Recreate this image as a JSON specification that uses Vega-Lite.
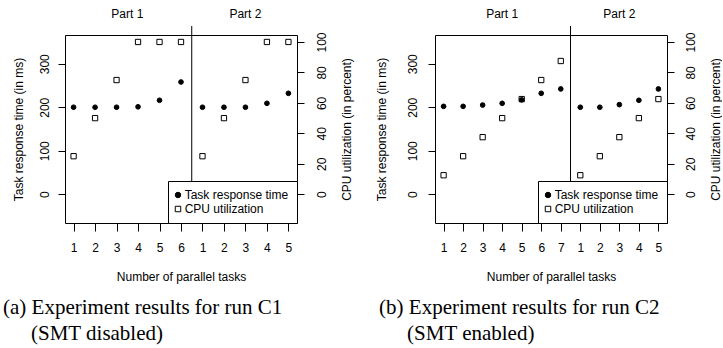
{
  "$schema": "https://vega.github.io/schema/vega-lite/v6.json",
  "padding": {"left": 2, "top": 7, "right": 0, "bottom": 0},
  "background": "white",
  "datasets": {
    "c1": [
      {"idx": 1, "part": "Part 1", "ms": 200, "cpu": 25},
      {"idx": 2, "part": "Part 1", "ms": 200, "cpu": 50},
      {"idx": 3, "part": "Part 1", "ms": 200, "cpu": 75},
      {"idx": 4, "part": "Part 1", "ms": 201, "cpu": 100},
      {"idx": 5, "part": "Part 1", "ms": 216, "cpu": 100},
      {"idx": 6, "part": "Part 1", "ms": 258, "cpu": 100},
      {"idx": 7, "part": "Part 2", "ms": 200, "cpu": 25},
      {"idx": 8, "part": "Part 2", "ms": 200, "cpu": 50},
      {"idx": 9, "part": "Part 2", "ms": 200, "cpu": 75},
      {"idx": 10, "part": "Part 2", "ms": 209, "cpu": 100},
      {"idx": 11, "part": "Part 2", "ms": 232, "cpu": 100}
    ],
    "c2": [
      {"idx": 1, "part": "Part 1", "ms": 202, "cpu": 12.5},
      {"idx": 2, "part": "Part 1", "ms": 202, "cpu": 25},
      {"idx": 3, "part": "Part 1", "ms": 205, "cpu": 37.5},
      {"idx": 4, "part": "Part 1", "ms": 209, "cpu": 50},
      {"idx": 5, "part": "Part 1", "ms": 217, "cpu": 62.5},
      {"idx": 6, "part": "Part 1", "ms": 232, "cpu": 75},
      {"idx": 7, "part": "Part 1", "ms": 242, "cpu": 87.5},
      {"idx": 8, "part": "Part 2", "ms": 200, "cpu": 12.5},
      {"idx": 9, "part": "Part 2", "ms": 200, "cpu": 25},
      {"idx": 10, "part": "Part 2", "ms": 206, "cpu": 37.5},
      {"idx": 11, "part": "Part 2", "ms": 216, "cpu": 50},
      {"idx": 12, "part": "Part 2", "ms": 242, "cpu": 62.5}
    ]
  },
  "spacing": 21,
  "resolve": {"scale": {"shape": "independent", "fill": "independent", "stroke": "independent"}},
  "hconcat": [
    {
      "width": 232,
      "height": 188,
      "data": {"name": "c1"},
      "title": {"text": ["(a) Experiment results for run C1", "\u200b\u00a0\u00a0\u00a0\u00a0\u00a0\u200a(SMT disabled)"], "dx": -9},
      "resolve": {"scale": {"y": "independent"}},
      "layer": [
        {
          "mark": {"type": "point", "size": 28, "strokeWidth": 1, "opacity": 1},
          "encoding": {
            "x": {"field": "idx", "type": "quantitative", "scale": {"domain": [0.6, 11.4], "nice": false, "zero": false},
                  "axis": {"values": [1,2,3,4,5,6,7,8,9,10,11], "tickCount": 30, "labelExpr": "datum.value <= 6 ? datum.value : datum.value - 6", "title": "Number of parallel tasks", "tickSize": 8, "labelPadding": 11, "titlePadding": 18, "labelAngle": 0, "labelOverlap": false}},
            "y": {"field": "cpu", "type": "quantitative", "scale": {"domain": [-18.857, 104.571], "nice": false, "zero": false},
                  "axis": {"orient": "right", "values": [0,20,40,60,80,100], "tickCount": 30, "title": "CPU utilization (in percent)", "tickSize": 7, "labelAngle": 270, "labelPadding": 12, "titleAngle": 270, "titlePadding": 26, "labelOverlap": false}},
            "shape": {"datum": "CPU utilization", "scale": {"domain": ["Task response time", "CPU utilization"], "range": ["circle", "square"]}, "legend": {"title": null}},
            "fill": {"datum": "CPU utilization", "scale": {"domain": ["Task response time", "CPU utilization"], "range": ["black", "white"]}, "legend": {"title": null}},
            "stroke": {"datum": "CPU utilization", "scale": {"domain": ["Task response time", "CPU utilization"], "range": ["black", "black"]}, "legend": {"title": null}}
          }
        },
        {
          "layer": [
            {
              "data": {"values": [{}]},
              "mark": {"type": "rule", "color": "black", "strokeWidth": 1},
              "encoding": {"x": {"datum": 6.5, "type": "quantitative"}, "y": {"datum": -66, "type": "quantitative"}, "y2": {"datum": 386.7}}
            },
            {
              "data": {"values": [{}]},
              "mark": {"type": "text", "text": "Part 1", "fontSize": 12, "color": "black", "baseline": "middle"},
              "encoding": {"x": {"datum": 3.5, "type": "quantitative"}, "y": {"datum": 414, "type": "quantitative"}}
            },
            {
              "data": {"values": [{}]},
              "mark": {"type": "text", "text": "Part 2", "fontSize": 12, "color": "black", "baseline": "middle"},
              "encoding": {"x": {"datum": 9, "type": "quantitative"}, "y": {"datum": 414, "type": "quantitative"}}
            },
            {
              "mark": {"type": "point", "size": 22, "strokeWidth": 1, "opacity": 1},
              "encoding": {
                "x": {"field": "idx", "type": "quantitative",
                      "axis": {"values": [1,2,3,4,5,6,7,8,9,10,11], "tickCount": 30, "labelExpr": "datum.value <= 6 ? datum.value : datum.value - 6", "title": "Number of parallel tasks", "tickSize": 8, "labelPadding": 11, "titlePadding": 18, "labelAngle": 0, "labelOverlap": false}},
                "y": {"field": "ms", "type": "quantitative", "scale": {"domain": [-66, 366], "nice": false, "zero": false},
                      "axis": {"orient": "left", "values": [0,100,200,300], "tickCount": 30, "title": "Task response time (in ms)", "tickSize": 7, "labelAngle": 270, "labelPadding": 7, "titlePadding": 13, "labelOverlap": false}},
                "shape": {"datum": "Task response time", "legend": {"title": null}},
                "fill": {"datum": "Task response time", "legend": {"title": null}},
                "stroke": {"datum": "Task response time", "legend": {"title": null}}
              }
            }
          ]
        }
      ]
    },
    {
      "width": 232,
      "height": 188,
      "data": {"name": "c2"},
      "title": {"text": ["(b) Experiment results for run C2", "\u200b\u00a0\u00a0\u00a0\u00a0\u00a0\u200a(SMT enabled)"], "dx": 4},
      "resolve": {"scale": {"y": "independent"}},
      "layer": [
        {
          "mark": {"type": "point", "size": 28, "strokeWidth": 1, "opacity": 1},
          "encoding": {
            "x": {"field": "idx", "type": "quantitative", "scale": {"domain": [0.56, 12.44], "nice": false, "zero": false},
                  "axis": {"values": [1,2,3,4,5,6,7,8,9,10,11,12], "tickCount": 30, "labelExpr": "datum.value <= 7 ? datum.value : datum.value - 7", "title": "Number of parallel tasks", "tickSize": 8, "labelPadding": 11, "titlePadding": 18, "labelAngle": 0, "labelOverlap": false}},
            "y": {"field": "cpu", "type": "quantitative", "scale": {"domain": [-18.857, 104.571], "nice": false, "zero": false},
                  "axis": {"orient": "right", "values": [0,20,40,60,80,100], "tickCount": 30, "title": "CPU utilization (in percent)", "tickSize": 7, "labelAngle": 270, "labelPadding": 11.6, "titleAngle": 270, "titlePadding": 25.5, "labelOverlap": false}},
            "shape": {"datum": "CPU utilization", "scale": {"domain": ["Task response time", "CPU utilization"], "range": ["circle", "square"]}, "legend": {"title": null}},
            "fill": {"datum": "CPU utilization", "scale": {"domain": ["Task response time", "CPU utilization"], "range": ["black", "white"]}, "legend": {"title": null}},
            "stroke": {"datum": "CPU utilization", "scale": {"domain": ["Task response time", "CPU utilization"], "range": ["black", "black"]}, "legend": {"title": null}}
          }
        },
        {
          "layer": [
            {
              "data": {"values": [{}]},
              "mark": {"type": "rule", "color": "black", "strokeWidth": 1},
              "encoding": {"x": {"datum": 7.5, "type": "quantitative"}, "y": {"datum": -66, "type": "quantitative"}, "y2": {"datum": 386.7}}
            },
            {
              "data": {"values": [{}]},
              "mark": {"type": "text", "text": "Part 1", "fontSize": 12, "color": "black", "baseline": "middle"},
              "encoding": {"x": {"datum": 4, "type": "quantitative"}, "y": {"datum": 414, "type": "quantitative"}}
            },
            {
              "data": {"values": [{}]},
              "mark": {"type": "text", "text": "Part 2", "fontSize": 12, "color": "black", "baseline": "middle"},
              "encoding": {"x": {"datum": 10, "type": "quantitative"}, "y": {"datum": 414, "type": "quantitative"}}
            },
            {
              "mark": {"type": "point", "size": 22, "strokeWidth": 1, "opacity": 1},
              "encoding": {
                "x": {"field": "idx", "type": "quantitative",
                      "axis": {"values": [1,2,3,4,5,6,7,8,9,10,11,12], "tickCount": 30, "labelExpr": "datum.value <= 7 ? datum.value : datum.value - 7", "title": "Number of parallel tasks", "tickSize": 8, "labelPadding": 11, "titlePadding": 18, "labelAngle": 0, "labelOverlap": false}},
                "y": {"field": "ms", "type": "quantitative", "scale": {"domain": [-66, 366], "nice": false, "zero": false},
                      "axis": {"orient": "left", "values": [0,100,200,300], "tickCount": 30, "title": "Task response time (in ms)", "tickSize": 7, "labelAngle": 270, "labelPadding": 8.4, "titlePadding": 18.5, "labelOverlap": false}},
                "shape": {"datum": "Task response time", "legend": {"title": null}},
                "fill": {"datum": "Task response time", "legend": {"title": null}},
                "stroke": {"datum": "Task response time", "legend": {"title": null}}
              }
            }
          ]
        }
      ]
    }
  ],
  "config": {
    "font": "Liberation Sans",
    "view": {"stroke": "black", "strokeWidth": 1},
    "axis": {"grid": false, "domain": false, "tickColor": "black", "tickWidth": 1, "labelColor": "black", "labelFontSize": 12, "labelFont": "Liberation Sans", "titleColor": "black", "titleFontSize": 12, "titleFontWeight": "normal", "titleFont": "Liberation Sans", "labelFlush": false},
    "legend": {"orient": "bottom-right", "offset": 0, "padding": 8, "strokeColor": "black", "fillColor": "white", "labelFontSize": 12, "labelFont": "Liberation Sans", "labelColor": "black", "symbolSize": 30, "symbolStrokeWidth": 1, "rowPadding": 2, "labelOffset": 0.7, "symbolOffset": -4, "cornerRadius": 0},
    "title": {"orient": "bottom", "anchor": "start", "frame": "bounds", "font": "Liberation Serif", "fontSize": 21, "fontWeight": "normal", "color": "black", "lineHeight": 26, "offset": 15}
  }
}
